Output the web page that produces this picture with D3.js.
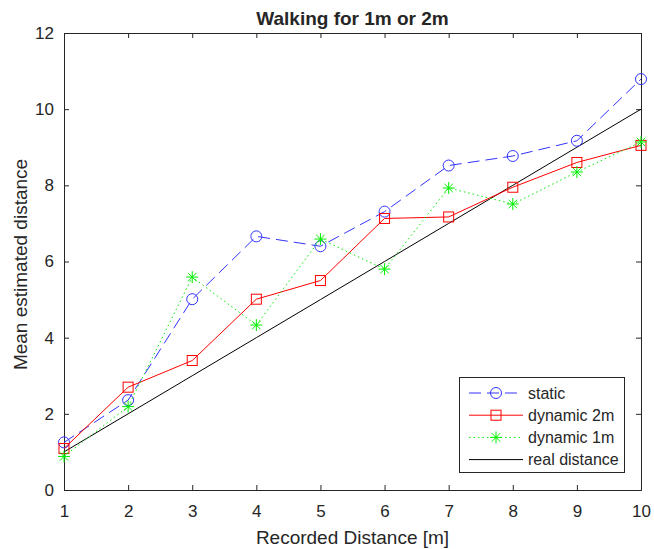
<!DOCTYPE html>
<html lang="en">
<head>
<meta charset="UTF-8" />
<title>Walking for 1m or 2m</title>
<style>
  body { margin: 0; background: #fff; }
  text { font-family: "Liberation Sans", Arial, sans-serif; fill: #262626; }
</style>
<script src="https://d3js.org/d3.v7.min.js"></script>
</head>
<body>
<svg id="chart" width="654" height="549"></svg>
<script>
const distances = [1, 2, 3, 4, 5, 6, 7, 8, 9, 10];
const staticVals = [1.25, 2.36, 5.01, 6.66, 6.40, 7.31, 8.52, 8.77, 9.17, 10.79];
const dyn2mVals = [1.09, 2.70, 3.40, 5.01, 5.50, 7.13, 7.17, 7.95, 8.60, 9.05];
const dyn1mVals = [0.88, 2.19, 5.59, 4.33, 6.59, 5.80, 7.93, 7.51, 8.35, 9.14];
const realVals = [1, 2, 3, 4, 5, 6, 7, 8, 9, 10];
const xTicks = [1, 2, 3, 4, 5, 6, 7, 8, 9, 10];
const yTicks = [0, 2, 4, 6, 8, 10, 12];

const series = [
  { name: 'static', values: staticVals, color: '#3333ff', dash: '12,6', marker: 'circle' },
  { name: 'dynamic 2m', values: dyn2mVals, color: '#ff0000', dash: null, marker: 'square' },
  { name: 'dynamic 1m', values: dyn1mVals, color: '#00ee00', dash: '1.5,3', marker: 'star' },
  { name: 'real distance', values: realVals, color: '#000000', dash: null, marker: null }
];

const margin = { left: 64, right: 13, top: 33, bottom: 59 };
const width = 654, height = 549;
const svg = d3.select('#chart');

const x = d3.scaleLinear().domain([1, 10]).range([margin.left, width - margin.right]);
const y = d3.scaleLinear().domain([0, 12]).range([height - margin.bottom, margin.top]);

const axisColor = '#262626';

// axes (ticks inside, like matlab)
const gx = svg.append('g').attr('transform', `translate(0,${y(0)})`)
  .call(d3.axisBottom(x).tickValues(xTicks).tickSize(-5).tickPadding(15).tickFormat(d3.format('d')));
const gxTop = svg.append('g').attr('transform', `translate(0,${y(12)})`)
  .call(d3.axisTop(x).tickValues(xTicks).tickSize(-5).tickFormat(''));
const gy = svg.append('g').attr('transform', `translate(${x(1)},0)`)
  .call(d3.axisLeft(y).tickValues(yTicks).tickSize(-5).tickPadding(10));
const gyRight = svg.append('g').attr('transform', `translate(${x(10)},0)`)
  .call(d3.axisRight(y).tickValues(yTicks).tickSize(-5).tickFormat(''));

[gx, gxTop, gy, gyRight].forEach(g => {
  g.select('.domain').attr('stroke', axisColor);
  g.selectAll('.tick line').attr('stroke', axisColor);
  g.selectAll('.tick text').attr('font-size', 17).attr('fill', axisColor)
    .attr('font-family', '"Liberation Sans", Arial, sans-serif');
});

// title and labels
svg.append('text').attr('x', (x(1) + x(10)) / 2).attr('y', 25)
  .attr('text-anchor', 'middle').attr('font-size', 19).attr('font-weight', 'bold')
  .attr('fill', '#000').text('Walking for 1m or 2m');
svg.append('text').attr('x', (x(1) + x(10)) / 2).attr('y', 544)
  .attr('text-anchor', 'middle').attr('font-size', 19).text('Recorded Distance [m]');
svg.append('text').attr('transform', `translate(27,${(y(0) + y(12)) / 2 + 3}) rotate(-90)`)
  .attr('text-anchor', 'middle').attr('font-size', 19).text('Mean estimated distance');

const plot = svg.append('g');

function drawMarker(g, type, cx, cy, color) {
  if (type === 'circle') {
    g.append('circle').attr('cx', cx).attr('cy', cy).attr('r', 5.5)
      .attr('fill', 'none').attr('stroke', color).attr('stroke-width', 1);
  } else if (type === 'square') {
    g.append('rect').attr('x', cx - 5).attr('y', cy - 5).attr('width', 10).attr('height', 10)
      .attr('fill', 'none').attr('stroke', color).attr('stroke-width', 1);
  } else if (type === 'star') {
    const r = 6;
    const p = `M${cx - r},${cy}L${cx + r},${cy}M${cx},${cy - r}L${cx},${cy + r}` +
      `M${cx - r * 0.7},${cy - r * 0.7}L${cx + r * 0.7},${cy + r * 0.7}` +
      `M${cx - r * 0.7},${cy + r * 0.7}L${cx + r * 0.7},${cy - r * 0.7}`;
    g.append('path').attr('d', p).attr('stroke', color).attr('stroke-width', 1).attr('fill', 'none');
  }
}

const line = d3.line().x((d, i) => x(distances[i])).y(d => y(d));

// draw real distance first so others lie on top
[series[3], series[0], series[1], series[2]].forEach(s => {
  plot.append('path').datum(s.values).attr('d', line)
    .attr('fill', 'none').attr('stroke', s.color).attr('stroke-width', 1)
    .attr('stroke-dasharray', s.dash);
  if (s.marker) {
    s.values.forEach((v, i) => drawMarker(plot, s.marker, x(distances[i]), y(v), s.color));
  }
});

// legend
const lg = svg.append('g');
lg.append('rect').attr('x', 459.5).attr('y', 377.5).attr('width', 165).attr('height', 95)
  .attr('fill', '#fff').attr('stroke', axisColor).attr('stroke-width', 1);
series.forEach((s, i) => {
  const ly = 393 + i * 22.2;
  lg.append('line').attr('x1', 469).attr('x2', 523).attr('y1', ly).attr('y2', ly)
    .attr('stroke', s.color).attr('stroke-width', 1).attr('stroke-dasharray', s.dash);
  if (s.marker) drawMarker(lg, s.marker, 496, ly, s.color);
  lg.append('text').attr('x', 528).attr('y', ly).attr('dy', '0.35em')
    .attr('font-size', 16).attr('fill', '#000').text(s.name);
});
</script>
</body>
</html>
